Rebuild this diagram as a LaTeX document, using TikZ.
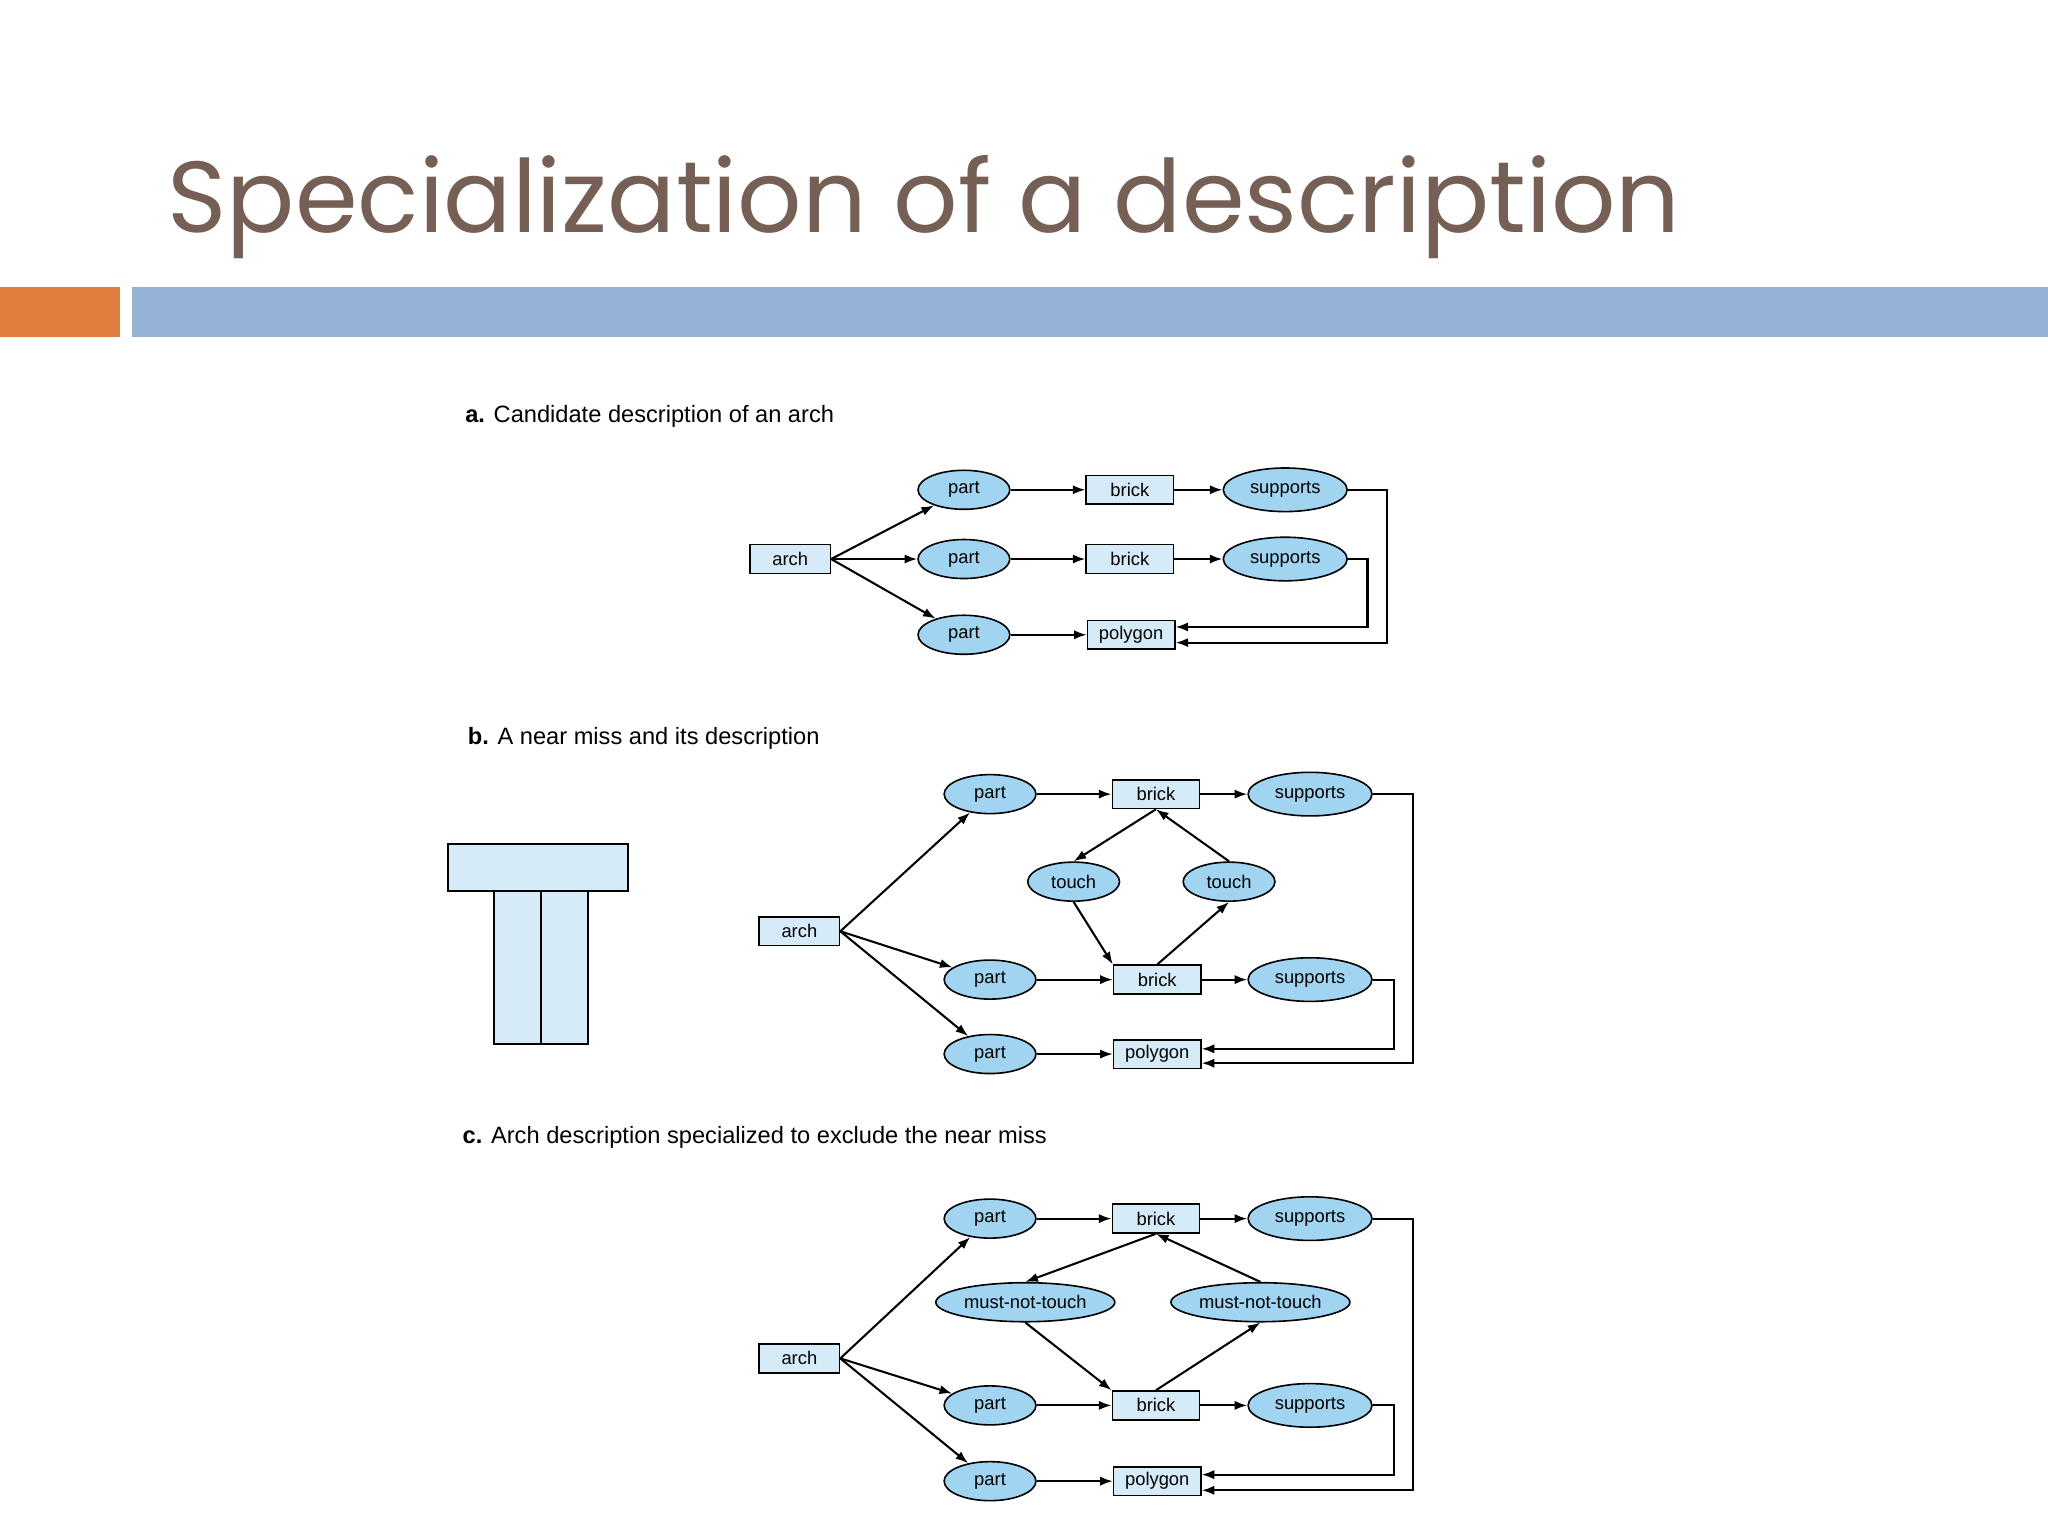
\documentclass[tikz,border=0pt]{standalone}
\usepackage{fontspec}
\setmainfont{Liberation Sans}
\newfontfamily\titlefont{Poppins}
\usetikzlibrary{arrows.meta,shapes.geometric}
\definecolor{titlec}{RGB}{118,96,86}
\definecolor{orangebar}{RGB}{224,124,62}
\definecolor{bluebar}{RGB}{149,179,213}
\definecolor{ellfill}{RGB}{160,212,240}
\definecolor{boxfill}{RGB}{214,235,248}
\tikzset{
 bx/.style={draw,line width=0.7pt,fill=boxfill,minimum width=38pt,minimum height=12.5pt,inner sep=1pt,font=\fontsize{8}{9}\selectfont},
 el/.style={draw,line width=0.7pt,ellipse,fill=ellfill,minimum width=40pt,minimum height=17pt,inner sep=0pt,font=\fontsize{8}{9}\selectfont},
 elw/.style={el,minimum width=54pt,minimum height=19pt},
 elm/.style={el,minimum width=78pt},
 ar/.style={-{Latex[length=5.5pt,width=4pt]},line width=0.9pt},
 ln/.style={line width=0.8pt},
 lab/.style={anchor=west,font=\fontsize{10.3}{12}\selectfont}
}
\begin{document}
\begin{tikzpicture}[x=0.02cm,y=-0.02cm]
\useasboundingbox (0,0) rectangle (1568,1176);
\fill[white] (0,0) rectangle (1568,1176);
\node[anchor=base west,inner sep=0,text=titlec,font=\titlefont\fontsize{44}{50}\selectfont] (title) at (128,178) {Specialization of a description};
\fill[orangebar] (0,220) rectangle (92,258);
\fill[bluebar] (101,220) rectangle (1568,258);
% ---- a
\node[lab] (la) at (350,319) {\textbf{a.} Candidate description of an arch};
\node[bx,minimum width=35pt] (a0) at (605,428) {arch};
\node[el] (ap1) at (738,375) {part};
\node[el] (ap2) at (738,428) {part};
\node[el] (ap3) at (738,486) {part};
\node[bx] (ab1) at (865,375) {brick};
\node[bx] (ab2) at (865,428) {brick};
\node[bx] (apg) at (866,486) {polygon};
\node[elw] (as1) at (984,375) {supports};
\node[elw] (as2) at (984,428) {supports};
\draw[ar] (a0.east) -- (ap1);
\draw[ar] (a0.east) -- (ap2);
\draw[ar] (a0.east) -- (ap3);
\draw[ar] (ap1) -- (ab1);
\draw[ar] (ap2) -- (ab2);
\draw[ar] (ap3) -- (apg);
\draw[ar] (ab1) -- (as1);
\draw[ar] (ab2) -- (as2);
\draw[ar] (as1.east) -- (1062,375) -- (1062,492) -- (apg.east |- 0,492);
\draw[ar] (as2.east) -- (1047,428) -- (1047,480) -- (apg.east |- 0,480);
% ---- b
\node[lab] (lb) at (352,565) {\textbf{b.} A near miss and its description};
\draw[fill=boxfill,ln] (343,646) rectangle (481,682);
\draw[fill=boxfill,ln] (378,682) rectangle (414,799);
\draw[fill=boxfill,ln] (414,682) rectangle (450,799);
\node[bx,minimum width=35pt] (b0) at (612,713) {arch};
\node[el] (bp1) at (758,608) {part};
\node[el] (bp2) at (758,750) {part};
\node[el] (bp3) at (758,807) {part};
\node[bx] (bb1) at (885,608) {brick};
\node[bx] (bb2) at (886,750) {brick};
\node[bx] (bpg) at (886,807) {polygon};
\node[elw] (bs1) at (1003,608) {supports};
\node[elw] (bs2) at (1003,750) {supports};
\node[el] (bt1) at (822,675) {touch};
\node[el] (bt2) at (941,675) {touch};
\draw[ar] (b0.east) -- (bp1);
\draw[ar] (b0.east) -- (bp2);
\draw[ar] (b0.east) -- (bp3);
\draw[ar] (bp1) -- (bb1);
\draw[ar] (bp2) -- (bb2);
\draw[ar] (bp3) -- (bpg);
\draw[ar] (bb1) -- (bs1);
\draw[ar] (bb2) -- (bs2);
\draw[ar] (bb1.south) -- (bt1.north);
\draw[ar] (bt2.north) -- (bb1.south);
\draw[ar] (bt1.south) -- (bb2.north west);
\draw[ar] (bb2.north) -- (bt2.south);
\draw[ar] (bs1.east) -- (1082,608) -- (1082,814) -- (bpg.east |- 0,814);
\draw[ar] (bs2.east) -- (1067,750) -- (1067,803) -- (bpg.east |- 0,803);
% ---- c
\node[lab] (lc) at (348,871) {\textbf{c.} Arch description specialized to exclude the near miss};
\node[bx,minimum width=35pt] (c0) at (612,1040) {arch};
\node[el] (cp1) at (758,933) {part};
\node[el] (cp2) at (758,1076) {part};
\node[el] (cp3) at (758,1134) {part};
\node[bx] (cb1) at (885,933) {brick};
\node[bx] (cb2) at (885,1076) {brick};
\node[bx] (cpg) at (886,1134) {polygon};
\node[elw] (cs1) at (1003,933) {supports};
\node[elw] (cs2) at (1003,1076) {supports};
\node[elm] (cm1) at (785,997) {must-not-touch};
\node[elm] (cm2) at (965,997) {must-not-touch};
\draw[ar] (c0.east) -- (cp1);
\draw[ar] (c0.east) -- (cp2);
\draw[ar] (c0.east) -- (cp3);
\draw[ar] (cp1) -- (cb1);
\draw[ar] (cp2) -- (cb2);
\draw[ar] (cp3) -- (cpg);
\draw[ar] (cb1) -- (cs1);
\draw[ar] (cb2) -- (cs2);
\draw[ar] (cb1.south) -- (cm1.north);
\draw[ar] (cm2.north) -- (cb1.south);
\draw[ar] (cm1.south) -- (cb2.north west);
\draw[ar] (cb2.north) -- (cm2.south);
\draw[ar] (cs1.east) -- (1082,933) -- (1082,1141) -- (cpg.east |- 0,1141);
\draw[ar] (cs2.east) -- (1067,1076) -- (1067,1129) -- (cpg.east |- 0,1129);
\end{tikzpicture}
\end{document}
